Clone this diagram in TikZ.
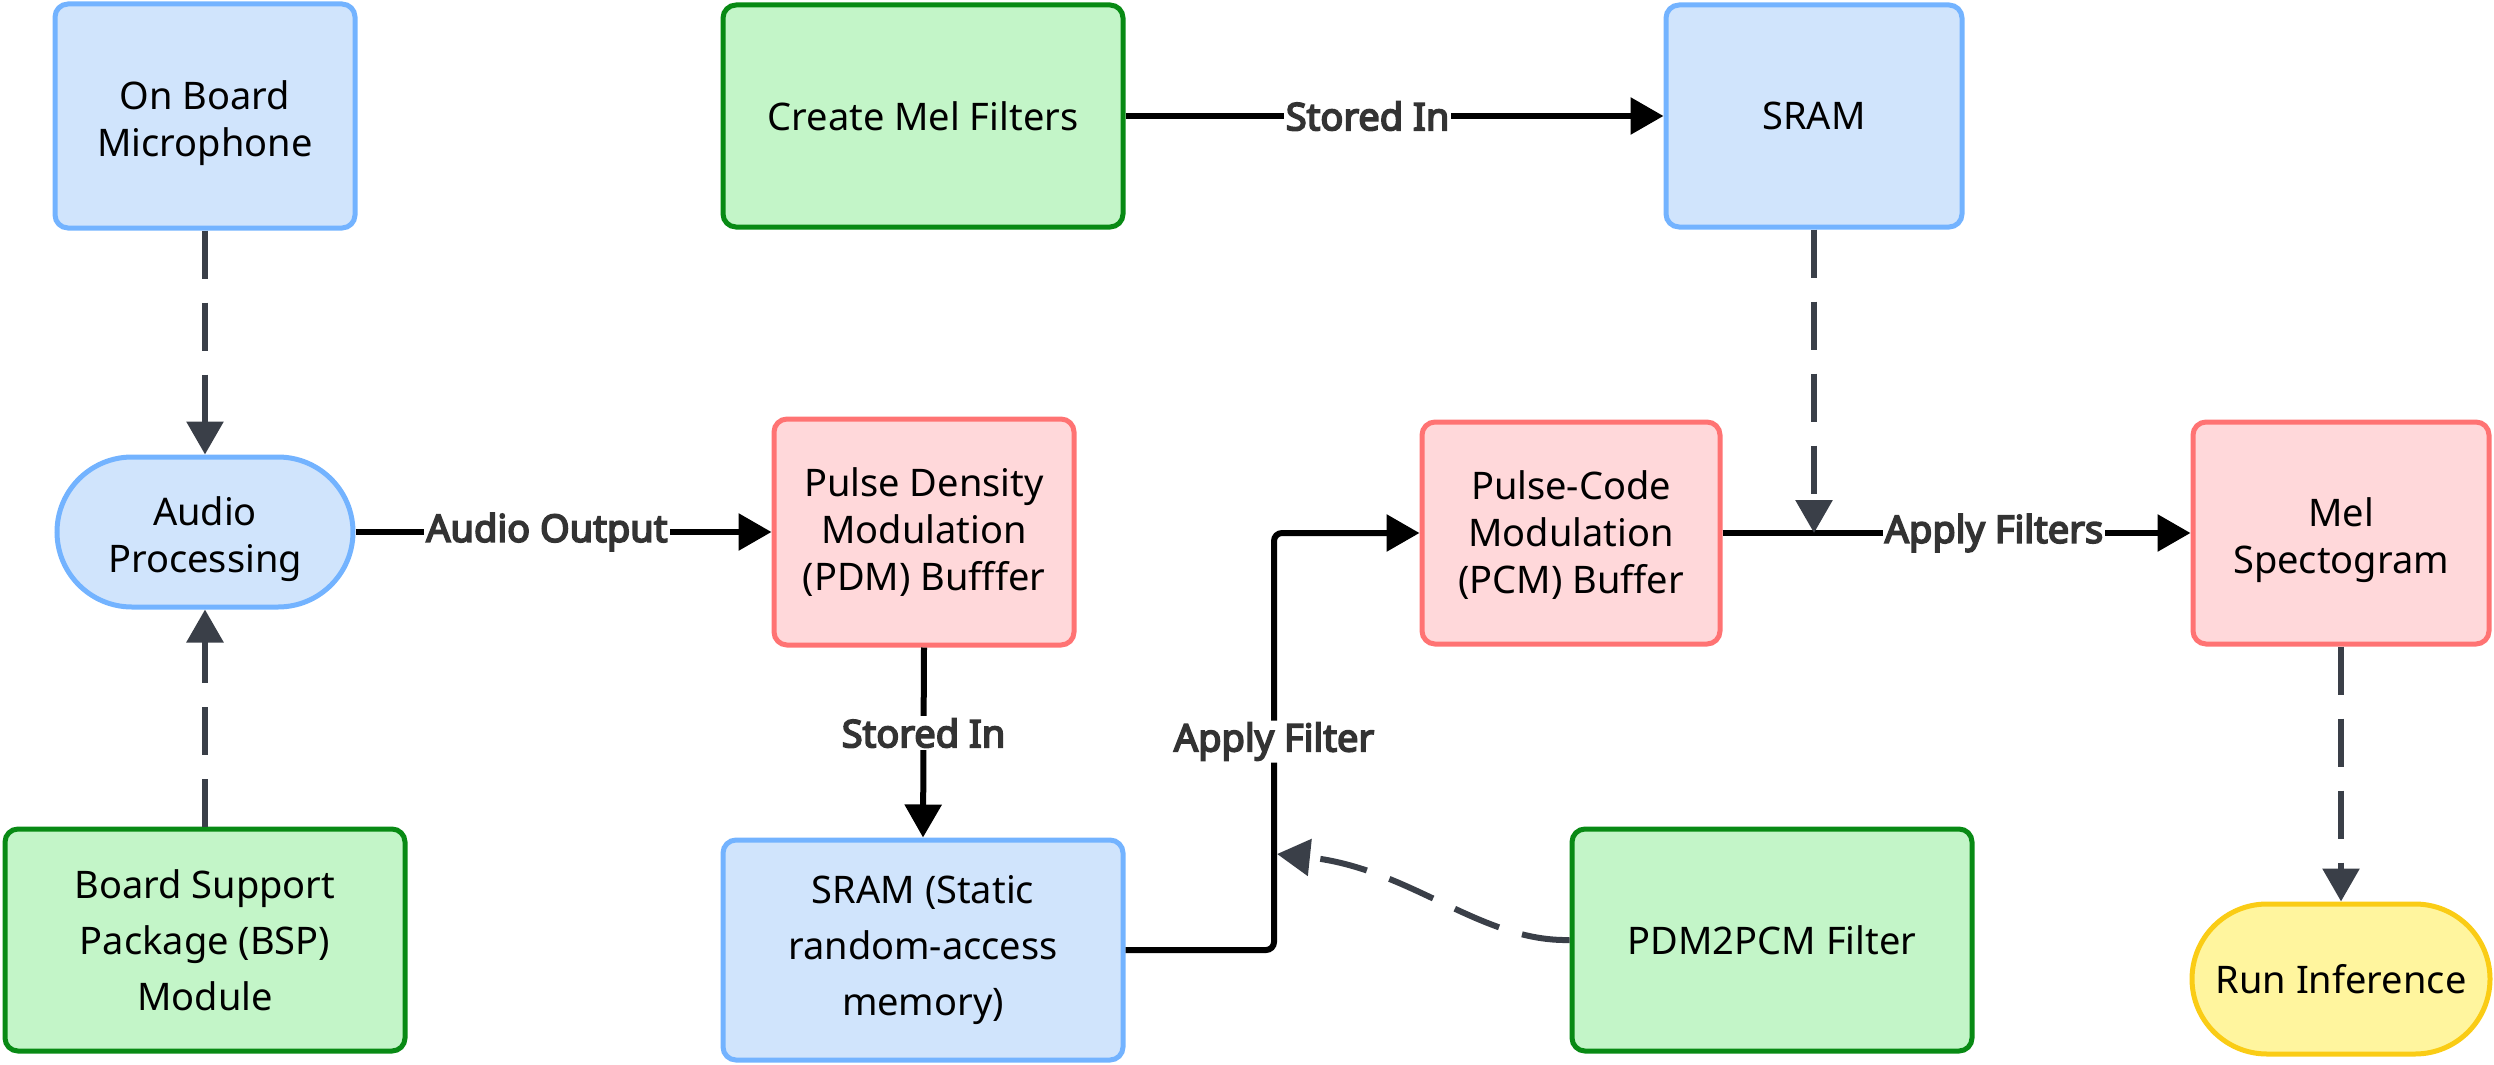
\documentclass[tikz,border=0pt]{standalone}
\usepackage{fontspec}
\setmainfont{Noto Sans}
\newfontfamily\lblfont{Noto Sans}[FakeBold=4.5]
\usetikzlibrary{arrows.meta,shapes.misc}
\definecolor{bfill}{HTML}{D0E4FC}
\definecolor{bdraw}{HTML}{73B3FF}
\definecolor{rfill}{HTML}{FFD8DA}
\definecolor{rdraw}{HTML}{FF7373}
\definecolor{gfill}{HTML}{C3F5C8}
\definecolor{gdraw}{HTML}{088A14}
\definecolor{yfill}{HTML}{FFF59E}
\definecolor{ydraw}{HTML}{FACC15}
\definecolor{dgray}{HTML}{3A3F48}
\definecolor{lblgray}{HTML}{333333}
\newcommand\mlines[2]{\raisebox{#1}[\height][\depth]{\begin{tabular}{@{}c@{}}#2\end{tabular}}}
\tikzset{
  box/.style={rectangle, rounded corners=13pt, line width=5pt, align=center, inner sep=0pt,
    font=\fontsize{38}{47}\selectfont, text=black},
  bluebox/.style={box, fill=bfill, draw=bdraw},
  redbox/.style={box, fill=rfill, draw=rdraw},
  greenbox/.style={box, fill=gfill, draw=gdraw},
  widelines/.style={font=\fontsize{38}{56}\selectfont},
  bluepill/.style={rounded rectangle, line width=5pt, align=center, inner sep=0pt,
    font=\fontsize{38}{47}\selectfont, fill=bfill, draw=bdraw},
  yellowpill/.style={rounded rectangle, line width=5pt, align=center, inner sep=0pt,
    font=\fontsize{38}{47}\selectfont, fill=yfill, draw=ydraw},
  solidarr/.style={draw=black, line width=6pt, -{Triangle[length=33pt,width=36pt]}},
  dasharr/.style={draw=dgray, line width=6pt, dash pattern=on 48pt off 24pt,
    -{Triangle[length=33pt,width=36pt]}},
  lbl/.style={fill=white, text=lblgray, inner sep=2pt, font=\lblfont\fontsize{38}{42}\selectfont}
}
\begin{document}
\begin{tikzpicture}[x=1pt,y=-1pt]
\useasboundingbox (0,0) rectangle (2494,1065);
% nodes
\node[bluebox, minimum width=300pt, minimum height=224pt] (mic) at (205,116) {\mlines{-8pt}{On Board\\Microphone}};
\node[greenbox, minimum width=400pt, minimum height=222pt] (cmf) at (923,116) {Create Mel Filters};
\node[bluebox, minimum width=296pt, minimum height=222pt] (sramtop) at (1814,116) {SRAM};
\node[bluepill, minimum width=296pt, minimum height=150pt] (audio) at (205,532) {\mlines{-8pt}{Audio\\Processing}};
\node[redbox, minimum width=300pt, minimum height=226pt] (pdm) at (924,532) {Pulse Density\\Modulation\\(PDM) Bufffer};
\node[redbox, minimum width=298pt, minimum height=222pt] (pcm) at (1571,533) {\mlines{-4pt}{Pulse-Code\\Modulation\\(PCM) Buffer}};
\node[redbox, minimum width=296pt, minimum height=222pt] (mel) at (2341,533) {\mlines{-8pt}{Mel\\Spectogram}};
\node[yellowpill, minimum width=298pt, minimum height=150pt] (run) at (2341,979) {Run Inference};
\node[greenbox, widelines, minimum width=400pt, minimum height=222pt] (bsp) at (205,940) {Board Support\\Package (BSP)\\Module};
\node[bluebox, widelines, minimum width=400pt, minimum height=220pt] (sram) at (923,950) {SRAM (Static\\random-access\\memory)};
\node[greenbox, minimum width=400pt, minimum height=222pt] (pdf) at (1772,940) {PDM2PCM Filter};
\coordinate (jx) at (1274,0);
\coordinate (hit) at (1277,854);
% connectors
\draw[dasharr] (mic.south) -- (audio.north);
\draw[dasharr] (bsp.north) -- (audio.south);
\draw[solidarr] (audio.east) -- node[lbl, pos=0.46]{Audio Output} (pdm.west);
\draw[solidarr] (pdm.south) -- node[lbl, pos=0.45]{Stored In} (sram.north);
\draw[solidarr] (cmf.east) -- node[lbl, pos=0.45]{Stored In} (sramtop.west);
\draw[solidarr, rounded corners=8pt] (sram.east) -- (sram.east -| jx) -- node[lbl]{Apply Filter} (jx |- pcm.west) -- (pcm.west);
\draw[solidarr] (pcm.east) -- node[lbl, pos=0.58]{Apply Filters} (mel.west);
\draw[dasharr] (sramtop.south) -- (sramtop.south |- pcm.east);
\draw[dasharr] (mel.south) -- (run.north);
\draw[dasharr] (pdf.west) .. controls (1480,942) and (1410,868) .. (hit);
\end{tikzpicture}
\end{document}
